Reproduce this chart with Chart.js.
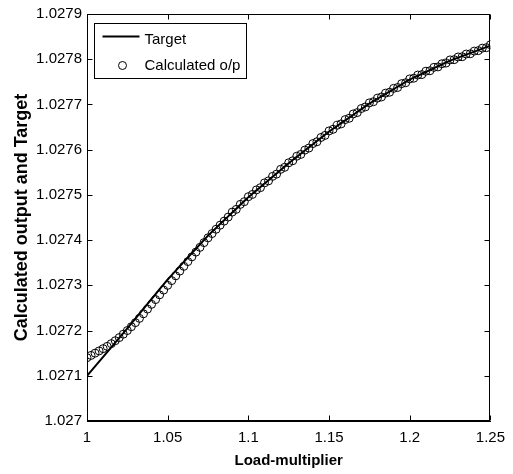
<!DOCTYPE html>
<html><head><meta charset="utf-8">
<script src="https://cdn.jsdelivr.net/npm/chart.js@4/dist/chart.umd.min.js"></script>
<style>html,body{margin:0;padding:0;background:#fff}#wrap{width:513px;height:474px;position:relative}</style>
</head><body><div id="wrap"><canvas id="c" width="513" height="474"></canvas></div>
<script>
const loadMultiplier = [1, 1.0025, 1.005, 1.0075, 1.01, 1.0125, 1.015, 1.0175, 1.02, 1.0225, 1.025, 1.0275, 1.03, 1.0325, 1.035, 1.0375, 1.04, 1.0425, 1.045, 1.0475, 1.05, 1.0525, 1.055, 1.0575, 1.06, 1.0625, 1.065, 1.0675, 1.07, 1.0725, 1.075, 1.0775, 1.08, 1.0825, 1.085, 1.0875, 1.09, 1.0925, 1.095, 1.0975, 1.1, 1.1025, 1.105, 1.1075, 1.11, 1.1125, 1.115, 1.1175, 1.12, 1.1225, 1.125, 1.1275, 1.13, 1.1325, 1.135, 1.1375, 1.14, 1.1425, 1.145, 1.1475, 1.15, 1.1525, 1.155, 1.1575, 1.16, 1.1625, 1.165, 1.1675, 1.17, 1.1725, 1.175, 1.1775, 1.18, 1.1825, 1.185, 1.1875, 1.19, 1.1925, 1.195, 1.1975, 1.2, 1.2025, 1.205, 1.2075, 1.21, 1.2125, 1.215, 1.2175, 1.22, 1.2225, 1.225, 1.2275, 1.23, 1.2325, 1.235, 1.2375, 1.24, 1.2425, 1.245, 1.2475, 1.25];

const target = [1.0271, 1.0271105, 1.027121, 1.0271315, 1.027142, 1.0271525, 1.027163, 1.0271735, 1.027184, 1.0271945,
1.027205, 1.0272158, 1.0272266, 1.0272374, 1.0272482, 1.027259, 1.0272698, 1.0272806, 1.0272914, 1.0273022,
1.027313, 1.0273227, 1.0273324, 1.0273421, 1.0273518, 1.0273615, 1.0273712, 1.0273809, 1.0273906, 1.0274003,
1.02741, 1.0274185, 1.027427, 1.0274355, 1.027444, 1.0274525, 1.027461, 1.0274695, 1.027478, 1.0274865,
1.027495, 1.0275025, 1.02751, 1.0275175, 1.027525, 1.0275325, 1.02754, 1.0275475, 1.027555, 1.0275625,
1.02757, 1.027577, 1.027584, 1.027591, 1.027598, 1.027605, 1.027612, 1.027619, 1.027626, 1.027633,
1.02764, 1.0276462, 1.0276524, 1.0276586, 1.0276648, 1.027671, 1.0276772, 1.0276834, 1.0276896, 1.0276958,
1.027702, 1.0277073, 1.0277126, 1.0277179, 1.0277232, 1.0277285, 1.0277338, 1.0277391, 1.0277444, 1.0277497,
1.027755, 1.0277592, 1.0277634, 1.0277676, 1.0277718, 1.027776, 1.0277802, 1.0277844, 1.0277886, 1.0277928,
1.027797, 1.0278003, 1.0278036, 1.0278069, 1.0278102, 1.0278135, 1.0278168, 1.0278201, 1.0278234, 1.0278267,
1.02783];

const calculated = [1.02714, 1.027145, 1.02715, 1.027155, 1.02716, 1.027165, 1.027171, 1.0271775, 1.0271845, 1.027192,
1.0272, 1.0272085, 1.0272175, 1.027227, 1.027237, 1.0272475, 1.027258, 1.0272685, 1.027279, 1.0272895,
1.0273, 1.0273105, 1.027321, 1.0273315, 1.027342, 1.0273525, 1.027363, 1.0273735, 1.027384, 1.0273945,
1.027405, 1.0274145, 1.027424, 1.027433, 1.027442, 1.027451, 1.027462, 1.027468, 1.027479, 1.027485,
1.027496, 1.027501, 1.027511, 1.027516, 1.0275265, 1.027531, 1.027541, 1.027546, 1.0275565, 1.027561,
1.027571, 1.0275755, 1.0275855, 1.0275895, 1.027599, 1.0276035, 1.0276135, 1.0276175, 1.027627, 1.0276315,
1.0276415, 1.027645, 1.027654, 1.027657, 1.0276665, 1.0276695, 1.027679, 1.027682, 1.027691, 1.0276945,
1.0277035, 1.027706, 1.027714, 1.0277165, 1.027725, 1.027727, 1.0277355, 1.0277375, 1.027746, 1.027748,
1.0277565, 1.027758, 1.027765, 1.027766, 1.0277735, 1.0277745, 1.027782, 1.027783, 1.02779, 1.0277915,
1.0277985, 1.027799, 1.027805, 1.0278055, 1.0278115, 1.027812, 1.027818, 1.027819, 1.0278245, 1.0278255,
1.027832];

const xTicks = [1, 1.05, 1.1, 1.15, 1.2, 1.25];
const xTickLabels = ['1', '1.05', '1.1', '1.15', '1.2', '1.25'];
const yTicks = [1.027, 1.0271, 1.0272, 1.0273, 1.0274, 1.0275, 1.0276, 1.0277, 1.0278, 1.0279];
const yTickLabels = ['1.027', '1.0271', '1.0272', '1.0273', '1.0274', '1.0275', '1.0276', '1.0277', '1.0278', '1.0279'];
const seriesNames = ['Target', 'Calculated o/p'];
const xTitle = 'Load-multiplier';
const yTitle = 'Calculated output and Target';

const FONT = '"Liberation Sans", Arial, sans-serif';

const framePlugin = {
  id: 'frame',
  afterDraw(chart) {
    const ctx = chart.ctx, a = chart.chartArea;
    const xs = chart.scales.x, ys = chart.scales.y;
    const L = Math.round(a.left) + 0.5, R = Math.round(a.right) - 0.5;
    const T = Math.round(a.top) + 0.5, B = Math.round(a.bottom) - 0.5;
    ctx.save();
    ctx.strokeStyle = '#000';
    ctx.lineWidth = 1;
    ctx.strokeRect(L, T, R - L, B - T);
    const tl = 5;
    ctx.beginPath();
    xTicks.forEach(v => {
      const px = Math.round(xs.getPixelForValue(v)) + 0.5;
      ctx.moveTo(px, B); ctx.lineTo(px, B - tl);
      ctx.moveTo(px, T); ctx.lineTo(px, T + tl);
    });
    yTicks.forEach(v => {
      const py = Math.round(ys.getPixelForValue(v)) + 0.5;
      ctx.moveTo(L, py); ctx.lineTo(L + tl, py);
      ctx.moveTo(R, py); ctx.lineTo(R - tl, py);
    });
    ctx.stroke();

    // legend box
    const bx = L + 7, by = T + 9, bw = 152, bh = 55;
    ctx.fillStyle = '#fff';
    ctx.fillRect(bx, by, bw, bh);
    ctx.strokeRect(bx, by, bw, bh);
    ctx.lineWidth = 2;
    ctx.beginPath();
    ctx.moveTo(bx + 8, by + 13); ctx.lineTo(bx + 45, by + 13);
    ctx.stroke();
    ctx.lineWidth = 1;
    ctx.beginPath();
    ctx.arc(bx + 28, by + 42, 4, 0, Math.PI * 2);
    ctx.stroke();
    ctx.fillStyle = '#000';
    ctx.font = '15px ' + FONT;
    ctx.textBaseline = 'middle';
    ctx.textAlign = 'left';
    ctx.fillText(seriesNames[0], bx + 50, by + 16);
    ctx.fillText(seriesNames[1], bx + 50, by + 42);
    ctx.restore();
  }
};

const ctx = document.getElementById('c').getContext('2d');
new Chart(ctx, {
  type: 'scatter',
  data: {
    datasets: [
      {
        label: seriesNames[0],
        data: loadMultiplier.map((x, i) => ({x: x, y: target[i]})),
        showLine: true, borderColor: '#000', borderWidth: 2,
        pointRadius: 0, fill: false, tension: 0
      },
      {
        label: seriesNames[1],
        data: loadMultiplier.map((x, i) => ({x: x, y: calculated[i]})),
        showLine: false, pointRadius: 4, pointStyle: 'circle',
        pointBorderColor: '#000', pointBackgroundColor: 'rgba(0,0,0,0)', pointBorderWidth: 1
      }
    ]
  },
  options: {
    responsive: false, animation: false, devicePixelRatio: 1,
    layout: {padding: {top: 12, right: 21, left: 0, bottom: 0}},
    plugins: {legend: {display: false}, tooltip: {enabled: false}},
    scales: {
      x: {
        type: 'linear', min: 1, max: 1.25,
        afterBuildTicks: s => { s.ticks = xTicks.map(v => ({value: v})); },
        afterFit: s => { s.height = 53; },
        ticks: {callback: (v, i) => xTickLabels[i], font: {family: FONT, size: 15}, color: '#000', padding: 8, maxRotation: 0, autoSkip: false},
        grid: {display: false, drawTicks: false},
        border: {display: true, color: '#000', width: 1},
        title: {display: true, text: xTitle, color: '#000', font: {family: FONT, size: 15, weight: 'bold'}, padding: {top: 4, bottom: 4}}
      },
      y: {
        type: 'linear', min: 1.027, max: 1.0279,
        afterBuildTicks: s => { s.ticks = yTicks.map(v => ({value: v})); },
        afterFit: s => { s.width = 87; },
        ticks: {callback: (v, i) => yTickLabels[i], font: {family: FONT, size: 15}, color: '#000', padding: 5, autoSkip: false},
        grid: {display: false, drawTicks: false},
        border: {display: true, color: '#000', width: 1},
        title: {display: true, text: yTitle, color: '#000', font: {family: FONT, size: 18, weight: 'bold'}, padding: {top: 11, bottom: 0}}
      }
    }
  },
  plugins: [framePlugin]
});
</script>
</body></html>
